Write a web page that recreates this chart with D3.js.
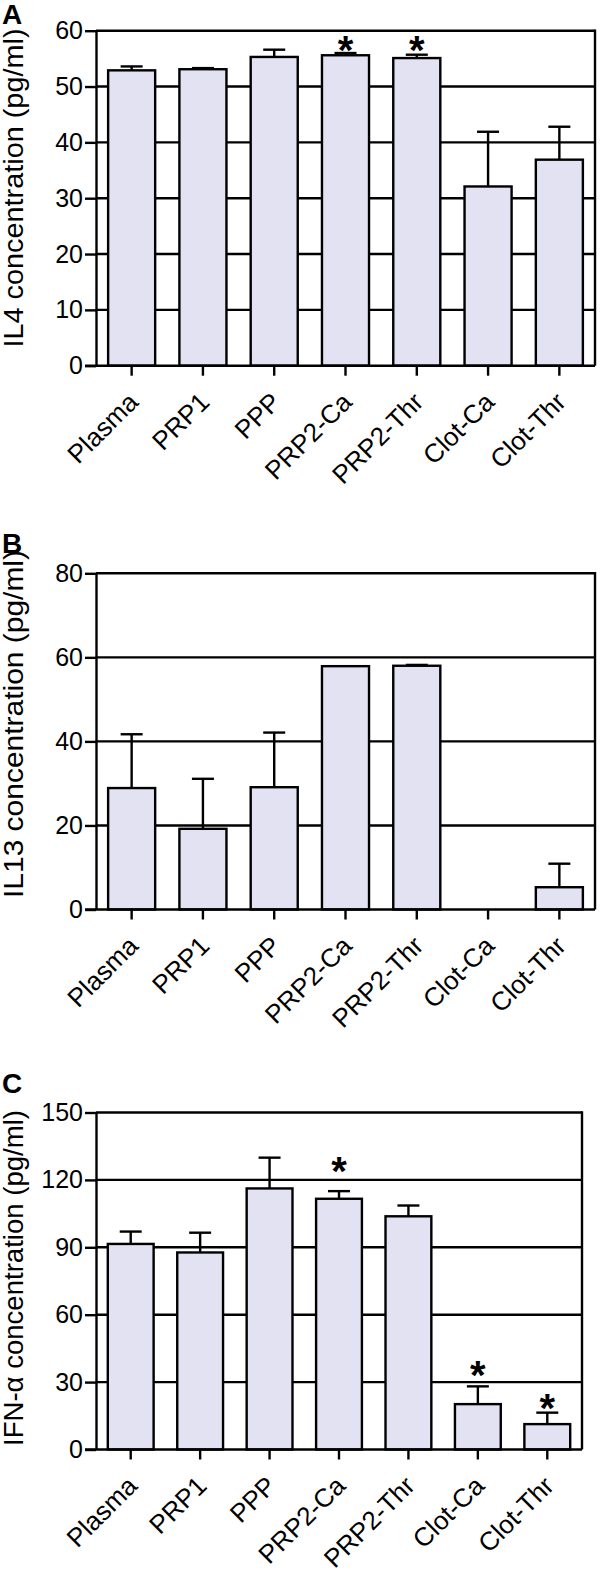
<!DOCTYPE html>
<html><head><meta charset="utf-8">
<script src="https://cdn.jsdelivr.net/npm/d3@7"></script>
<style>body{margin:0;background:#fff} text{font-family:"Liberation Sans",Arial,sans-serif}</style>
</head><body><svg id="c" width="600" height="1574"></svg>
<script>
const categories = ["Plasma","PRP1","PPP","PRP2-Ca","PRP2-Thr","Clot-Ca","Clot-Thr"];

const il4Mean    = [52.9, 53.1, 55.3, 55.6, 55.1, 32.1, 36.9];
const il4ErrTop  = [53.6, 53.3, 56.6, 56.0, 55.7, 41.9, 42.8];
const il4Stars   = [null, null, null, 57.9, 57.9, null, null];
const il4Ticks   = [0, 10, 20, 30, 40, 50, 60];

const il13Mean   = [28.9, 19.2, 29.1, 57.9, 58.0, 0, 5.3];
const il13ErrTop = [41.7, 31.1, 42.1, 57.9, 58.2, 0, 10.9];
const il13Stars  = [null, null, null, null, null, null, null];
const il13Ticks  = [0, 20, 40, 60, 80];

const ifnMean    = [91.5, 87.7, 116.2, 111.6, 103.8, 20.2, 11.3];
const ifnErrTop  = [97.0, 96.5, 129.9, 115.0, 108.6, 28.1, 16.4];
const ifnStars   = [null, null, null, 127.6, null, 36.7, 22.0];
const ifnTicks   = [0, 30, 60, 90, 120, 150];

const panels = [
  {letter:"A", title:"IL4 concentration (pg/ml)", mean:il4Mean, err:il4ErrTop, stars:il4Stars, ticks:il4Ticks,
   top:30.7, bottom:365.7, left:96, right:595, letterY:24, titleC:188, titleLen:319},
  {letter:"B", title:"IL13 concentration (pg/ml)", mean:il13Mean, err:il13ErrTop, stars:il13Stars, ticks:il13Ticks,
   top:573.3, bottom:909.5, left:96, right:595, letterY:553, titleC:724, titleLen:348},
  {letter:"C", title:"IFN-\u03b1 concentration (pg/ml)", mean:ifnMean, err:ifnErrTop, stars:ifnStars, ticks:ifnTicks,
   top:1112.5, bottom:1449.5, left:96, right:582, letterY:1093, titleC:1278, titleLen:336}
];

const svg = d3.select("#c");
const SW = 2.4;
const FILL = "#e2e2f3";
const FONT = "Liberation Sans, Arial, sans-serif";

panels.forEach(p => {
  const g = svg.append("g");
  const x = d3.scaleBand().domain(categories).range([p.left, p.right]).paddingInner(0.34).paddingOuter(0.17);
  const y = d3.scaleLinear().domain([0, d3.max(p.ticks)]).range([p.bottom, p.top]);
  const cx = c => x(c) + x.bandwidth() / 2;

  // gridlines
  g.selectAll("line.grid").data(p.ticks.filter(t => t > 0)).join("line")
    .attr("x1", p.left).attr("x2", p.right)
    .attr("y1", d => y(d)).attr("y2", d => y(d))
    .attr("stroke", "#000").attr("stroke-width", SW);
  // right border
  g.append("line").attr("x1", p.right).attr("x2", p.right).attr("y1", p.top - SW/2).attr("y2", p.bottom)
    .attr("stroke", "#000").attr("stroke-width", SW);

  const data = categories.map((c, i) => ({c, m: p.mean[i], e: p.err[i], s: p.stars[i]}));

  // bars
  g.selectAll("rect.bar").data(data.filter(d => d.m > 0)).join("rect")
    .attr("x", d => x(d.c)).attr("width", x.bandwidth())
    .attr("y", d => y(d.m)).attr("height", d => y(0) - y(d.m))
    .attr("fill", FILL).attr("stroke", "#000").attr("stroke-width", SW);

  // error bars
  const eb = data.filter(d => d.e > d.m);
  g.selectAll("line.ev").data(eb).join("line")
    .attr("x1", d => cx(d.c)).attr("x2", d => cx(d.c))
    .attr("y1", d => y(d.m)).attr("y2", d => y(d.e))
    .attr("stroke", "#000").attr("stroke-width", SW);
  g.selectAll("line.ec").data(eb).join("line")
    .attr("x1", d => cx(d.c) - 11).attr("x2", d => cx(d.c) + 11)
    .attr("y1", d => y(d.e)).attr("y2", d => y(d.e))
    .attr("stroke", "#000").attr("stroke-width", SW);

  // significance stars
  g.selectAll("text.star").data(data.filter(d => d.s != null)).join("text")
    .attr("x", d => cx(d.c))
    .attr("y", d => y(d.s) + 22)
    .attr("text-anchor", "middle").attr("font-size", 40).attr("font-weight", "bold")
    .attr("font-family", FONT)
    .text("*");

  // y axis
  const ya = g.append("g").attr("transform", `translate(${p.left},0)`)
    .call(d3.axisLeft(y).tickValues(p.ticks).tickSize(11).tickSizeOuter(0).tickPadding(2));
  ya.select(".domain").attr("stroke-width", SW);
  ya.selectAll(".tick line").attr("stroke-width", SW);
  ya.selectAll(".tick text").attr("font-size", 25).attr("fill", "#000").attr("font-family", FONT);

  // x axis
  const xa = g.append("g").attr("transform", `translate(0,${p.bottom})`)
    .call(d3.axisBottom(x).tickSize(10).tickSizeOuter(0));
  xa.select(".domain").attr("stroke-width", SW).attr("d", `M${p.left - 11},0H${p.right}`);
  xa.selectAll(".tick line").attr("stroke-width", SW);
  xa.selectAll(".tick text").attr("font-size", 26).attr("fill", "#000").attr("font-family", FONT)
    .attr("x", 0).attr("y", 0).attr("dy", 0)
    .attr("text-anchor", "end")
    .attr("transform", "translate(8,38) rotate(-45)");

  // y title
  g.append("text")
    .attr("transform", `translate(23,${p.titleC}) rotate(-90)`)
    .attr("text-anchor", "middle").attr("font-size", 27).attr("font-family", FONT)
    .attr("textLength", p.titleLen).attr("lengthAdjust", "spacingAndGlyphs")
    .text(p.title);

  // panel letter
  g.append("text").attr("x", 2).attr("y", p.letterY)
    .attr("font-size", 28).attr("font-weight", "bold").attr("font-family", FONT).text(p.letter);
});
</script></body></html>
